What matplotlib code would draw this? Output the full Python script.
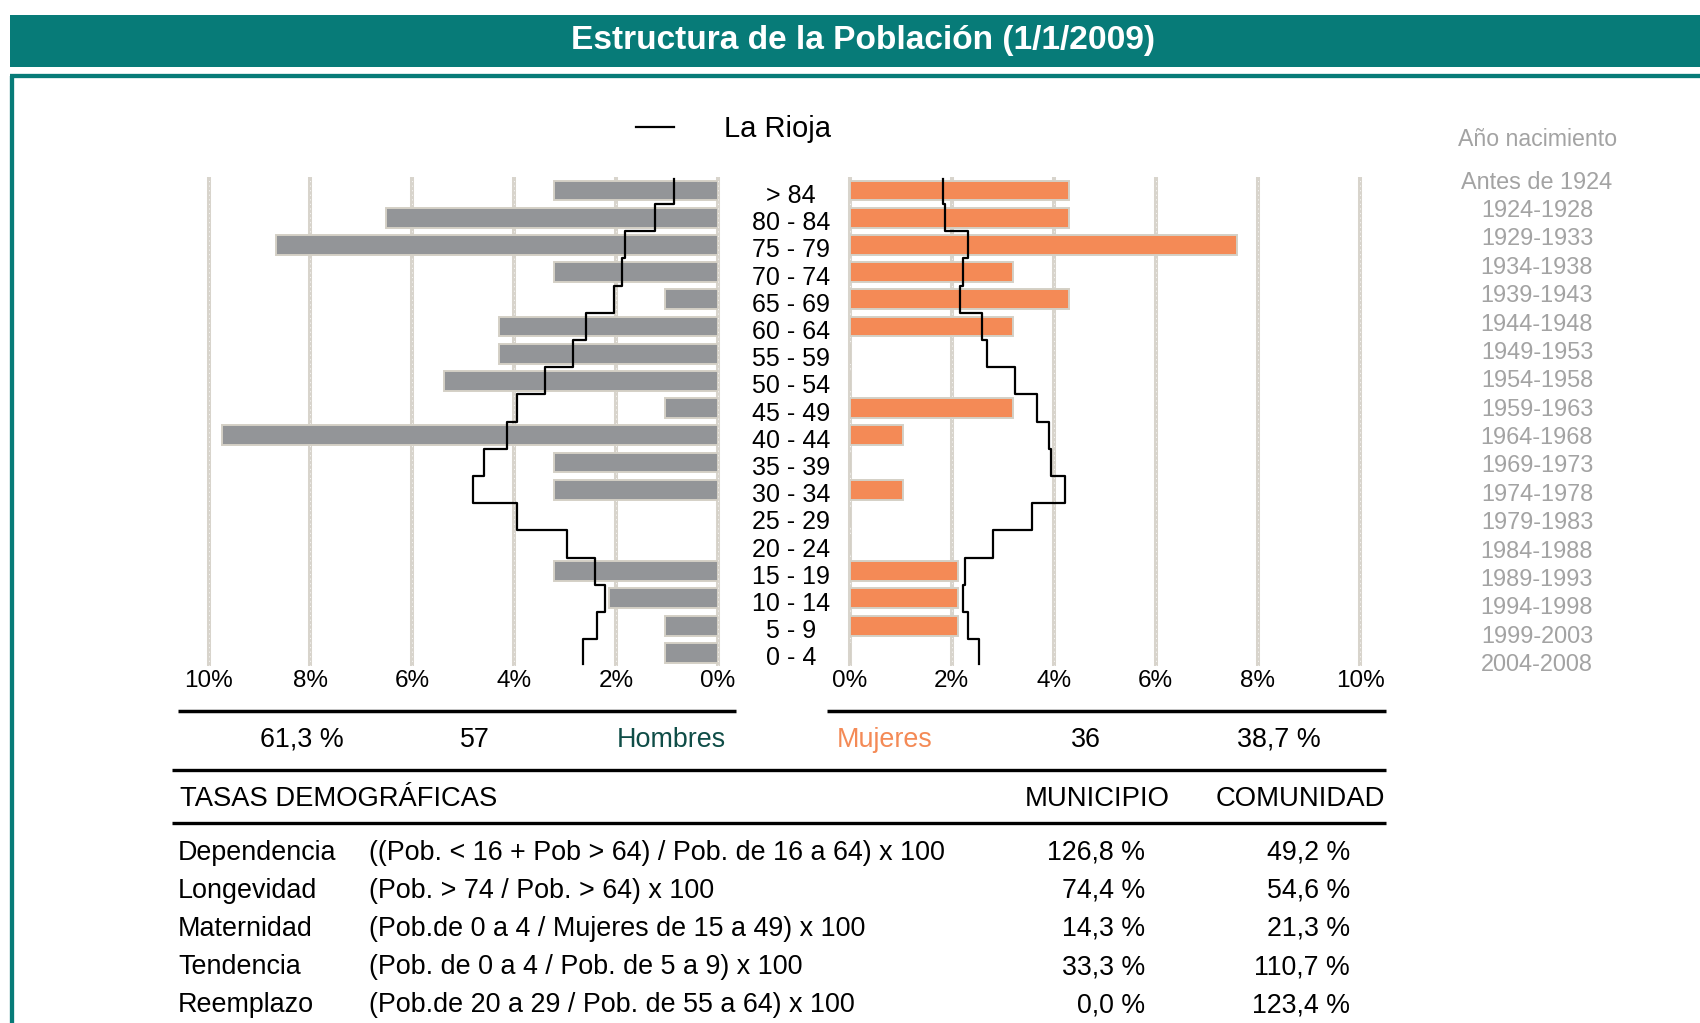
"""Pirámide de población del municipio frente al perfil de La Rioja (1/1/2009)."""

import matplotlib.pyplot as plt
from matplotlib.patches import Rectangle
from matplotlib.transforms import offset_copy

plt.rcParams["font.family"] = ["Liberation Sans", "DejaVu Sans"]

# Grupos de edad, de arriba abajo.
AGE_GROUPS = ["> 84", "80 - 84", "75 - 79", "70 - 74", "65 - 69", "60 - 64",
              "55 - 59", "50 - 54", "45 - 49", "40 - 44", "35 - 39", "30 - 34",
              "25 - 29", "20 - 24", "15 - 19", "10 - 14", "5 - 9", "0 - 4"]
BIRTH_YEARS = ["Antes de 1924", "1924-1928", "1929-1933", "1934-1938", "1939-1943",
               "1944-1948", "1949-1953", "1954-1958", "1959-1963", "1964-1968",
               "1969-1973", "1974-1978", "1979-1983", "1984-1988", "1989-1993",
               "1994-1998", "1999-2003", "2004-2008"]

MEN_PCT = [3.21, 6.51, 8.67, 3.21, 1.05, 4.29, 4.29, 5.37, 1.05,
           9.74, 3.21, 3.21, 0.0, 0.0, 3.21, 2.13, 1.05, 1.05]
WOMEN_PCT = [4.29, 4.29, 7.59, 3.21, 4.29, 3.21, 0.0, 0.0, 3.21,
             1.05, 0.0, 1.05, 0.0, 0.0, 2.13, 2.13, 2.13, 0.0]

# Perfil de referencia de La Rioja (línea escalonada).
RIOJA_MEN = [0.86, 1.23, 1.82, 1.89, 2.05, 2.59, 2.85, 3.40, 3.94,
             4.15, 4.59, 4.80, 3.94, 2.97, 2.42, 2.21, 2.38, 2.65]
RIOJA_WOMEN = [1.84, 1.88, 2.32, 2.22, 2.16, 2.59, 2.70, 3.24, 3.67,
               3.90, 3.94, 4.22, 3.57, 2.81, 2.26, 2.22, 2.32, 2.53]

TICKS = [0, 2, 4, 6, 8, 10]

# Resumen y tasas demográficas.
SUMMARY = ["61,3 %", "57", "Hombres", "Mujeres", "36", "38,7 %"]
RATE_NAMES = ["Dependencia", "Longevidad", "Maternidad", "Tendencia", "Reemplazo"]
RATE_FORMULAS = ["((Pob. < 16 + Pob > 64) / Pob. de 16 a 64) x 100",
                 "(Pob. > 74 / Pob. > 64) x 100",
                 "(Pob.de 0 a 4 / Mujeres de 15 a 49) x 100",
                 "(Pob. de 0 a 4 / Pob. de 5 a 9) x 100",
                 "(Pob.de 20 a 29 / Pob. de 55 a 64) x 100"]
RATE_MUNICIPIO = ["126,8 %", "74,4 %", "14,3 %", "33,3 %", "0,0 %"]
RATE_COMUNIDAD = ["49,2 %", "54,6 %", "21,3 %", "110,7 %", "123,4 %"]

TEAL = "#077b78"
GRAY = "#939598"
ORANGE = "#f48a56"
EDGE = "#d4d0c6"
GRID = "#d8d4cc"
YEAR_GRAY = "#a3a3a3"

W, H = 1700, 1023
fig = plt.figure(figsize=(W / 100, H / 100), dpi=100)


def px_axes(x0, y0, x1, y1):
    # axes placed in pixel coords (origin top-left)
    ax = fig.add_axes([x0 / W, 1 - y1 / H, (x1 - x0) / W, (y1 - y0) / H])
    ax.set_facecolor("none")
    return ax


def step_xy(values):
    xs, ys = [], []
    n = len(values)
    for i, v in enumerate(values):
        top = i - 0.41 if i == 0 else i - 0.5
        bot = i + 0.41 if i == n - 1 else i + 0.5
        xs += [v, v]
        ys += [top, bot]
    return xs, ys


# Layout layer in pixel units
lay = px_axes(0, 0, W, H)
lay.set_xlim(0, W)
lay.set_ylim(H, 0)
lay.axis("off")
lay.add_patch(Rectangle((10.3, 15), W - 10.3, 51.7, color=TEAL, lw=0))
lay.text(863, 40, "Estructura de la Población (1/1/2009)", color="white",
         fontsize=24.1, fontweight="bold", ha="center", va="center")
lay.plot([12.3, 12.3], [76, H], color=TEAL, lw=3.1, solid_capstyle="butt")
lay.plot([10.3, W], [76, 76], color=TEAL, lw=3.1, solid_capstyle="butt")

rows_y = list(range(len(AGE_GROUPS)))
y_lim = (len(AGE_GROUPS) - 0.5, -0.5)


def draw_grid(ax):
    for t in TICKS:
        ax.axvline(t, color=GRID, lw=2.9, zorder=0, clip_on=False, solid_capstyle="butt")
        ax.axvline(t, color="white", lw=0.7, ls=(0, (1.2, 3.5)), alpha=0.75, zorder=0.5,
                   clip_on=False)


# Hombres (izquierda)
ax_m = px_axes(208.5, 176.9, 718, 666.4)
draw_grid(ax_m)
ax_m.barh(rows_y, MEN_PCT, height=0.73, color=GRAY, edgecolor=EDGE, linewidth=1.4, zorder=2)
xs, ys = step_xy(RIOJA_MEN)
rioja_line, = ax_m.plot(xs, ys, color="black", lw=1.6, zorder=3)
ax_m.set_xlim(10, 0)

# Mujeres (derecha)
ax_w = px_axes(849.5, 176.9, 1360, 666.4)
draw_grid(ax_w)
ax_w.barh(rows_y, WOMEN_PCT, height=0.73, color=ORANGE, edgecolor=EDGE, linewidth=1.4, zorder=2)
xs, ys = step_xy(RIOJA_WOMEN)
ax_w.plot(xs, ys, color="black", lw=1.6, zorder=3)
ax_w.set_xlim(0, 10)

for ax in (ax_m, ax_w):
    ax.set_ylim(*y_lim)
    ax.set_yticks([])
    ax.set_xticks(TICKS)
    ax.set_xticklabels([f"{t}%" for t in TICKS], fontsize=17.5)
    ax.tick_params(axis="x", length=0, pad=2.5)
    for s in ax.spines.values():
        s.set_visible(False)

# Etiquetas de edad (centro)
ax_c = px_axes(718, 176.9, 849.5, 666.4)
ax_c.set_xlim(0, 1)
ax_c.set_ylim(*y_lim)
ax_c.axis("off")
age_tr = offset_copy(ax_c.transData, fig=fig, y=-3, units="dots")
for i, lab in enumerate(AGE_GROUPS):
    ax_c.text(0.555, i, lab, fontsize=18, ha="center", va="center_baseline", transform=age_tr)

# Año de nacimiento (derecha)
ax_y = px_axes(1460, 165.5, 1614, 676.2)
ax_y.set_xlim(0, 1)
ax_y.set_ylim(*y_lim)
ax_y.axis("off")
for i, lab in enumerate(BIRTH_YEARS):
    ax_y.text(0.5, i, lab, fontsize=16.9, color=YEAR_GRAY, ha="center", va="center_baseline")
lay.text(1538, 137.5, "Año nacimiento", fontsize=16.7, color=YEAR_GRAY,
         ha="center", va="center_baseline")

# Leyenda
fig.legend(handles=[rioja_line], labels=["La Rioja"], loc="center left",
           bbox_to_anchor=(636 / W, 1 - 129 / H), frameon=False, fontsize=21,
           handlelength=1.3, handletextpad=1.72, borderpad=0, borderaxespad=0)

# Resumen hombres / mujeres
lay.plot([178, 736], [711, 711], color="black", lw=2.5, solid_capstyle="butt")
lay.plot([827, 1386], [711, 711], color="black", lw=2.5, solid_capstyle="butt")
sum_x = [302, 475, 671, 885, 1086, 1279]
sum_colors = ["black", "black", "#0f4d47", ORANGE, "black", "black"]
for x, txt, c in zip(sum_x, SUMMARY, sum_colors):
    lay.text(x, 737, txt, fontsize=19.4, color=c, ha="center", va="center_baseline")

# Tasas demográficas
lay.plot([172, 1386], [770, 770], color="black", lw=2.4, solid_capstyle="butt")
lay.plot([172, 1386], [822.7, 822.7], color="black", lw=2.4, solid_capstyle="butt")
lay.text(180, 796, "TASAS DEMOGRÁFICAS", fontsize=19.7, ha="left", va="center_baseline")
lay.text(1097, 796, "MUNICIPIO", fontsize=19.8, ha="center", va="center_baseline")
lay.text(1300, 796, "COMUNIDAD", fontsize=19.8, ha="center", va="center_baseline")
for i, (name, form, mun, com) in enumerate(zip(RATE_NAMES, RATE_FORMULAS,
                                                RATE_MUNICIPIO, RATE_COMUNIDAD)):
    y = 849.5 + 38.2 * i
    lay.text(178, y, name, fontsize=19.4, ha="left", va="center_baseline")
    lay.text(369, y, form, fontsize=19.4, ha="left", va="center_baseline")
    lay.text(1145, y, mun, fontsize=19.3, ha="right", va="center_baseline")
    lay.text(1350, y, com, fontsize=19.3, ha="right", va="center_baseline")

plt.savefig("out.png", dpi=100)
